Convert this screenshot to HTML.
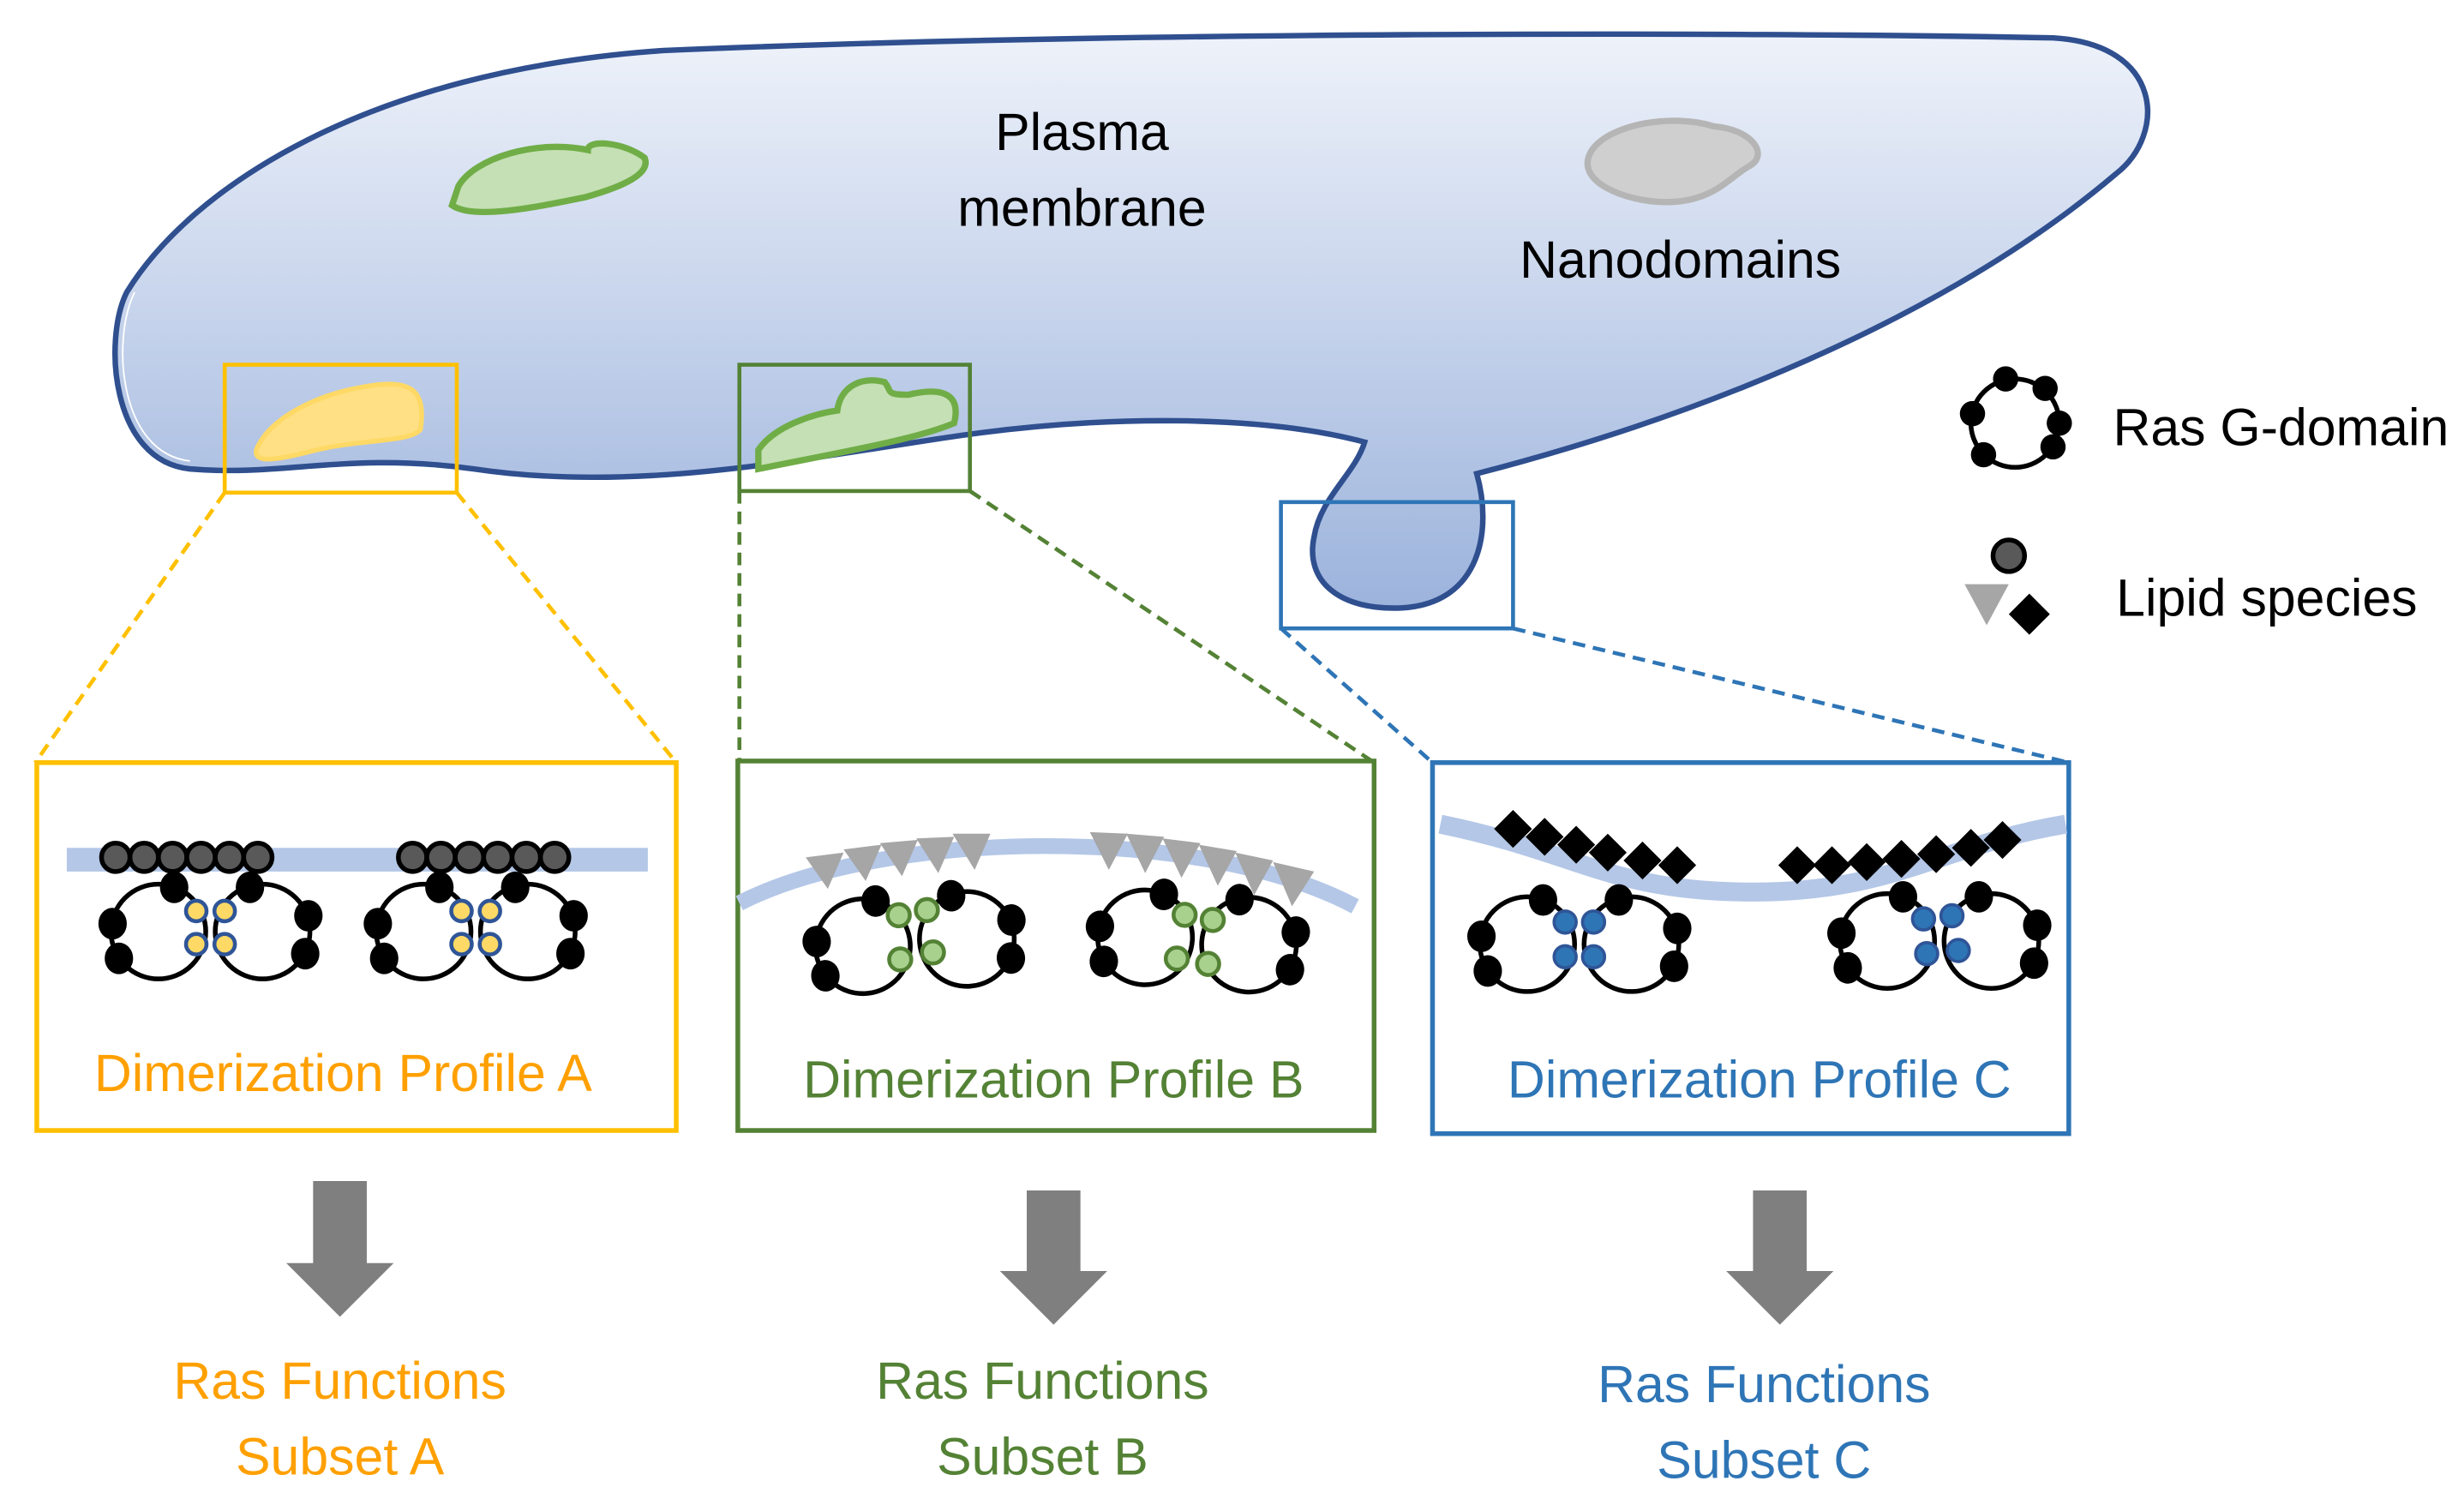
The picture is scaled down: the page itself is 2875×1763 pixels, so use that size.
<!DOCTYPE html>
<html><head><meta charset="utf-8"><style>html,body{margin:0;padding:0;background:#fff}svg{display:block}</style></head>
<body>
<svg width="2875" height="1763" viewBox="0 0 1560 957" xmlns="http://www.w3.org/2000/svg" font-family="'Liberation Sans', sans-serif">
<defs>
<linearGradient id="mg" x1="0" y1="0" x2="0" y2="1">
<stop offset="0" stop-color="#eef2fa"/><stop offset="1" stop-color="#9cb3dc"/></linearGradient>
<g id="dimL">
<circle cx="-33" cy="2" r="30" fill="none" stroke="#000" stroke-width="3"/>
<circle cx="33" cy="2" r="30" fill="none" stroke="#000" stroke-width="3"/>
<ellipse cx="-23" cy="-26" rx="9" ry="10"/><ellipse cx="-62" cy="-3" rx="9" ry="10"/><ellipse cx="-58" cy="19" rx="9" ry="10"/>
<ellipse cx="25" cy="-26" rx="9" ry="10"/><ellipse cx="62" cy="-8" rx="9" ry="10"/><ellipse cx="60" cy="16" rx="9" ry="10"/>
</g>
</defs>

<path d="M120,297 C70,292 65,215 80,185 C120,120 230,45 420,32 C700,20 1100,20 1300,24 C1370,28 1372,85 1340,110 C1240,195 1090,260 935,300 C945,335 938,382 888,385 C848,387 826,368 832,340 C836,315 858,300 864,280 C800,263 700,262 600,277 C500,292 400,312 300,297 C220,286 180,302 120,297 Z" fill="url(#mg)" stroke="#2f4f8f" stroke-width="3.5"/>
<path d="M120,292 C75,287 70,215 85,185" fill="none" stroke="#fff" stroke-width="1"/>

<path d="M290,118 C300,100 340,88 372,95 C372,88 395,90 408,100 C412,110 395,118 370,125 C345,130 300,140 286,130 Z" fill="#c5e0b4" stroke="#70ad47" stroke-width="4"/>
<path d="M1008,95 C1020,78 1060,72 1085,80 C1110,82 1120,98 1108,105 C1095,112 1085,128 1055,128 C1030,128 995,115 1008,95 Z" fill="#cfcfcf" stroke="#b5b5b5" stroke-width="4"/>
<path d="M162,285 C170,265 200,250 230,245 C258,240 270,245 266,272 C260,280 230,278 200,285 C180,290 160,295 162,285 Z" fill="#ffe084" stroke="#ffd966" stroke-width="3"/>
<path d="M480,285 C490,270 515,262 530,260 C532,245 545,238 560,242 C565,248 560,250 575,250 C600,244 608,252 604,268 C580,278 540,285 480,297 Z" fill="#c5e0b4" stroke="#70ad47" stroke-width="4"/>

<rect x="142" y="231" width="147" height="81" fill="none" stroke="#ffc000" stroke-width="2.5"/>
<rect x="468" y="231" width="146" height="80" fill="none" stroke="#548235" stroke-width="2.5"/>
<rect x="811" y="318" width="147" height="80" fill="none" stroke="#2e75b6" stroke-width="2.5"/>
<g stroke-width="2.5" stroke-dasharray="8,5" fill="none">
<path d="M142,312 L22,483 M289,312 L428,483" stroke="#ffc000"/>
<path d="M468,311 L468,483 M614,311 L870,483" stroke="#548235"/>
<path d="M811,398 L907,483 M958,398 L1310,483" stroke="#2e75b6"/>
</g>

<rect x="23" y="483" width="405" height="233" fill="#fff" stroke="#ffc000" stroke-width="3"/>
<rect x="467" y="482" width="403" height="234" fill="#fff" stroke="#548235" stroke-width="3"/>
<rect x="907" y="483" width="403" height="235" fill="#fff" stroke="#2e75b6" stroke-width="3"/>

<rect x="42" y="537" width="368" height="15" fill="#b4c7e7"/>
<g fill="#595959" stroke="#000" stroke-width="3">
<circle cx="73" cy="543" r="9"/><circle cx="91" cy="543" r="9"/><circle cx="109" cy="543" r="9"/><circle cx="127" cy="543" r="9"/><circle cx="145" cy="543" r="9"/><circle cx="163" cy="543" r="9"/>
<circle cx="261" cy="543" r="9"/><circle cx="279" cy="543" r="9"/><circle cx="297" cy="543" r="9"/><circle cx="315" cy="543" r="9"/><circle cx="333" cy="543" r="9"/><circle cx="351" cy="543" r="9"/>
</g>
<g transform="translate(133,588)"><use href="#dimL"/><g fill="#ffd966" stroke="#2f5597" stroke-width="2.5"><circle cx="-9" cy="-11" r="6.5"/><circle cx="9" cy="-11" r="6.5"/><circle cx="-9" cy="10" r="6.5"/><circle cx="9" cy="10" r="6.5"/></g></g>
<g transform="translate(301,588)"><use href="#dimL"/><g fill="#ffd966" stroke="#2f5597" stroke-width="2.5"><circle cx="-9" cy="-11" r="6.5"/><circle cx="9" cy="-11" r="6.5"/><circle cx="-9" cy="10" r="6.5"/><circle cx="9" cy="10" r="6.5"/></g></g>
<text x="217" y="691" font-size="33" fill="#ffa000" text-anchor="middle">Dimerization Profile A</text>

<path d="M468,572 C560,525 760,522 858,574" fill="none" stroke="#b4c7e7" stroke-width="10"/>
<g fill="#a6a6a6">
<path d="M510,543 L534,540 L524,563Z"/><path d="M534,538 L558,535 L548,558Z"/><path d="M557,534 L581,532 L571,555Z"/><path d="M580,531 L604,530 L594,553Z"/><path d="M603,528 L627,528 L617,551Z"/>
<path d="M690,527 L714,528 L702,551Z"/><path d="M713,528 L737,530 L725,553Z"/><path d="M736,531 L760,534 L748,556Z"/><path d="M759,535 L783,539 L771,561Z"/><path d="M782,540 L806,545 L794,567Z"/><path d="M806,546 L832,552 L818,574Z"/>
</g>
<g transform="translate(579,595) rotate(-4)"><use href="#dimL"/><g fill="#a9d18e" stroke="#548235" stroke-width="2.5"><circle cx="-9" cy="-16" r="7"/><circle cx="9" cy="-18" r="7"/><circle cx="-10" cy="12" r="7"/><circle cx="11" cy="9" r="7"/></g></g>
<g transform="translate(758,594) rotate(4)"><use href="#dimL"/><g fill="#a9d18e" stroke="#548235" stroke-width="2.5"><circle cx="-9" cy="-14" r="7"/><circle cx="9" cy="-12" r="7"/><circle cx="-12" cy="14" r="7"/><circle cx="8" cy="16" r="7"/></g></g>
<text x="667" y="695" font-size="33" fill="#548235" text-anchor="middle">Dimerization Profile B</text>

<path d="M912,522 C1000,540 1020,565 1110,565 C1200,565 1230,535 1308,522" fill="none" stroke="#b4c7e7" stroke-width="12"/>
<g fill="#000" transform="translate(0,-14)">
<path d="M958,527 l12,12 l-12,12 l-12,-12Z"/>
<path d="M978,532 l12,12 l-12,12 l-12,-12Z"/>
<path d="M998,537 l12,12 l-12,12 l-12,-12Z"/>
<path d="M1018,542 l12,12 l-12,12 l-12,-12Z"/>
<path d="M1040,547 l12,12 l-12,12 l-12,-12Z"/>
<path d="M1062,550 l12,12 l-12,12 l-12,-12Z"/>
<path d="M1138,550 l12,12 l-12,12 l-12,-12Z"/>
<path d="M1160,550 l12,12 l-12,12 l-12,-12Z"/>
<path d="M1182,548 l12,12 l-12,12 l-12,-12Z"/>
<path d="M1204,546 l12,12 l-12,12 l-12,-12Z"/>
<path d="M1226,543 l12,12 l-12,12 l-12,-12Z"/>
<path d="M1248,539 l12,12 l-12,12 l-12,-12Z"/>
<path d="M1268,534 l12,12 l-12,12 l-12,-12Z"/>
</g>
<g transform="translate(1000,596)"><use href="#dimL"/><g fill="#2e75b6" stroke="#2f5597" stroke-width="2"><circle cx="-9" cy="-12" r="7"/><circle cx="9" cy="-12" r="7"/><circle cx="-9" cy="10" r="7"/><circle cx="9" cy="10" r="7"/></g></g>
<g transform="translate(1228,594)"><use href="#dimL"/><g fill="#2e75b6" stroke="#2f5597" stroke-width="2"><circle cx="-10" cy="-12" r="7"/><circle cx="8" cy="-14" r="7"/><circle cx="-8" cy="10" r="7"/><circle cx="12" cy="8" r="7"/></g></g>
<text x="1114" y="695" font-size="33" fill="#2e75b6" text-anchor="middle">Dimerization Profile C</text>

<g fill="#7f7f7f">
<path d="M198,748 L232,748 L232,800 L249,800 L215,834 L181,800 L198,800Z"/>
<path d="M650,754 L684,754 L684,805 L701,805 L667,839 L633,805 L650,805Z"/>
<path d="M1110,754 L1144,754 L1144,805 L1161,805 L1127,839 L1093,805 L1110,805Z"/>
</g>

<g font-size="33" text-anchor="middle">
<text x="685" y="95" fill="#000">Plasma</text>
<text x="685" y="143" fill="#000">membrane</text>
<text x="1064" y="176" fill="#000">Nanodomains</text>
<text x="215" y="886" fill="#ffa000">Ras Functions</text>
<text x="215" y="934" fill="#ffa000">Subset A</text>
<text x="660" y="886" fill="#548235">Ras Functions</text>
<text x="660" y="934" fill="#548235">Subset B</text>
<text x="1117" y="888" fill="#2e75b6">Ras Functions</text>
<text x="1117" y="936" fill="#2e75b6">Subset C</text>
</g>

<g transform="translate(1276,268)">
<circle cx="0" cy="0" r="28" fill="none" stroke="#000" stroke-width="3"/>
<circle cx="-6" cy="-28" r="8"/><circle cx="19" cy="-22" r="8"/><circle cx="-27" cy="-6" r="8"/>
<circle cx="28" cy="0" r="8"/><circle cx="-20" cy="20" r="8"/><circle cx="24" cy="15" r="8"/>
</g>
<text x="1338" y="282" font-size="33" fill="#000">Ras G-domain</text>
<circle cx="1272" cy="352" r="10" fill="#595959" stroke="#000" stroke-width="3"/>
<path d="M1244,370 L1272,370 L1258,396Z" fill="#a6a6a6"/>
<path d="M1285,376 L1298,389 L1285,402 L1272,389Z" fill="#000"/>
<text x="1340" y="390" font-size="33" fill="#000">Lipid species</text>
</svg>
</body></html>
